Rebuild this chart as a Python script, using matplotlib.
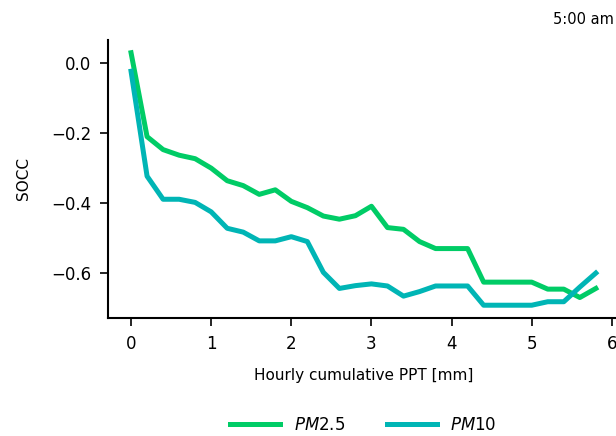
import matplotlib as mpl
mpl.use('Agg')

import matplotlib.pyplot as plt
import numpy as np

# Hourly cumulative precipitation [mm]
ppt = np.round(np.arange(0, 5.81, 0.2), 1)

# Correlation with PM
socc_pm25 = [0.03, -0.21, -0.247, -0.263, -0.273, -0.30, -0.336, -0.35,
             -0.375, -0.362, -0.395, -0.413, -0.437, -0.446, -0.436,
             -0.409, -0.47, -0.475, -0.51, -0.53, -0.53, -0.53, -0.626,
             -0.626, -0.626, -0.626, -0.646, -0.646, -0.67, -0.644]
socc_pm10 = [-0.023, -0.323, -0.389, -0.389, -0.398, -0.425, -0.472, -0.483,
             -0.508, -0.508, -0.496, -0.51, -0.598, -0.644, -0.636,
             -0.631, -0.637, -0.666, -0.653, -0.637, -0.637, -0.637, -0.692,
             -0.692, -0.692, -0.692, -0.682, -0.682, -0.64, -0.60]

series_labels = ['$PM$2.5', '$PM$10']
yticks = [0.0, -0.2, -0.4, -0.6]
COLORS = ['#00cc66', '#00b5b5']

plt.rcParams['font.family'] = ['DejaVu Sans']
plt.rcParams['mathtext.fontset'] = 'dejavusans'

fig = plt.figure(figsize=(6.16, 4.36), dpi=100)
ax = fig.add_axes([0.175, 0.271, 0.83, 0.637])

for vals, lab, c in zip([socc_pm25, socc_pm10], series_labels, COLORS):
    ax.plot(ppt, vals, color=c, lw=3.6, label=lab)

ax.set_yticks(yticks)
ax.set_xlabel('Hourly cumulative PPT [mm]', fontsize=11, labelpad=11)
ax.set_ylabel('SOCC', fontsize=11, labelpad=14)
fig.text(0.997, 0.955, '5:00 am', ha='right', va='center', fontsize=10.5)
ax.tick_params(labelsize=12, length=6, width=1.2, pad=6)

for s in ['top', 'right']:
    ax.spines[s].set_visible(False)
for s in ['left', 'bottom']:
    ax.spines[s].set_linewidth(1.5)

ax.legend(loc='upper center', bbox_to_anchor=(0.5, -0.3), ncol=2,
          frameon=False, fontsize=12, handlelength=3, columnspacing=2.5)

plt.savefig('out.png', dpi=100)
